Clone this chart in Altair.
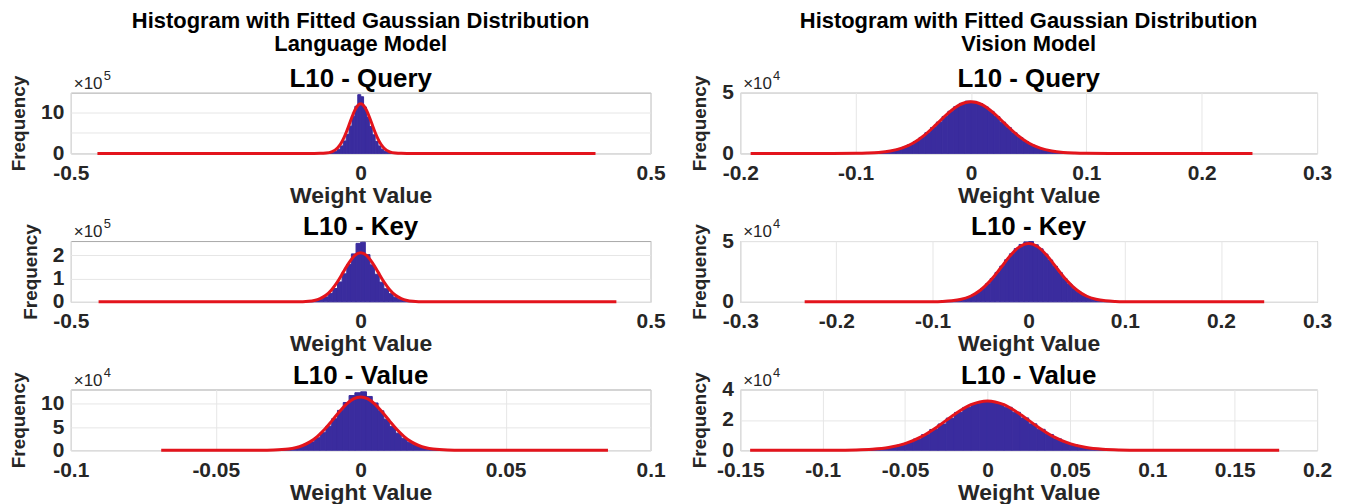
import altair as alt
import pandas as pd

# ---------------- data ----------------
# Language model, L10 - Query  (frequency in units of 1e5)
lq_bin_start, lq_bin_width = -0.075, 0.005
lq_counts = [0.0, 0.01, 0.03, 0.06, 0.12, 0.25, 0.5, 1.0, 1.8, 3.0, 4.6, 6.6, 8.9, 11.4, 14.2,
             13.7, 11.2, 8.8, 6.5, 4.5, 2.9, 1.8, 1.0, 0.5, 0.25, 0.12, 0.06, 0.03, 0.01, 0.0]
lq_fit_x = [-0.454, -0.15, -0.08, -0.07, -0.06, -0.05, -0.04, -0.035, -0.03, -0.025, -0.02, -0.015,
            -0.01, -0.005, 0.0, 0.005, 0.01, 0.015, 0.02, 0.025, 0.03, 0.035, 0.04, 0.05, 0.06,
            0.07, 0.08, 0.15, 0.405]
lq_fit_y = [0, 0, 0.002, 0.013, 0.08, 0.38, 1.31, 2.2, 3.45, 5.05, 6.9, 8.79, 10.45, 11.59, 12.0,
            11.59, 10.45, 8.79, 6.9, 5.05, 3.45, 2.2, 1.31, 0.38, 0.08, 0.013, 0.002, 0, 0]

# Language model, L10 - Key  (units of 1e5)
lk_bin_start, lk_bin_width = -0.096, 0.008
lk_counts = [0.01, 0.02, 0.05, 0.11, 0.21, 0.36, 0.57, 0.85, 1.2, 1.6, 2.05, 2.5,
             2.55, 2.02, 1.58, 1.18, 0.84, 0.56, 0.35, 0.2, 0.11, 0.05, 0.02, 0.01]
lk_fit_x = [-0.452, -0.2, -0.12, -0.1, -0.09, -0.08, -0.07, -0.06, -0.05, -0.04, -0.03, -0.02,
            -0.01, 0.0, 0.01, 0.02, 0.03, 0.04, 0.05, 0.06, 0.07, 0.08, 0.09, 0.1, 0.12, 0.2, 0.441]
lk_fit_y = [0, 0, 0.001, 0.008, 0.023, 0.06, 0.14, 0.28, 0.52, 0.86, 1.27, 1.68, 1.99, 2.1,
            1.99, 1.68, 1.27, 0.86, 0.52, 0.28, 0.14, 0.06, 0.023, 0.008, 0.001, 0, 0]

# Language model, L10 - Value  (units of 1e4)
lv_bin_start, lv_bin_width = -0.03, 0.002
lv_counts = [0.07, 0.14, 0.26, 0.45, 0.75, 1.2, 1.8, 2.7, 3.8, 5.2, 6.8, 8.6, 10.3, 11.8, 12.4,
             12.6, 11.6, 10.2, 8.5, 6.7, 5.1, 3.7, 2.6, 1.75, 1.15, 0.72, 0.43, 0.25, 0.13, 0.06]
lv_fit_x = [-0.0688, -0.05, -0.04, -0.035, -0.03, -0.025, -0.0225, -0.02, -0.0175, -0.015,
            -0.0125, -0.01, -0.0075, -0.005, -0.0025, 0.0, 0.0025, 0.005, 0.0075, 0.01, 0.0125,
            0.015, 0.0175, 0.02, 0.0225, 0.025, 0.03, 0.035, 0.04, 0.05, 0.0853]
lv_fit_y = [0, 0, 0.001, 0.007, 0.05, 0.26, 0.54, 1.03, 1.81, 2.96, 4.47, 6.29, 8.19, 9.89,
            11.07, 11.5, 11.07, 9.89, 8.19, 6.29, 4.47, 2.96, 1.81, 1.03, 0.54, 0.26, 0.05,
            0.007, 0.001, 0, 0]

# Vision model, L10 - Query  (units of 1e4)
vq_bin_start, vq_bin_width = -0.09, 0.005
vq_counts = [0.03, 0.05, 0.085, 0.14, 0.22, 0.34, 0.5, 0.71, 0.98, 1.31, 1.70, 2.13, 2.58, 3.04,
             3.47, 3.84, 4.12, 4.30,
             4.28, 4.10, 3.82, 3.46, 3.03, 2.57, 2.12, 1.69, 1.30, 0.97, 0.70, 0.49, 0.33, 0.22,
             0.14, 0.085, 0.05, 0.03]
vq_fit_x = [-0.191, -0.14, -0.12, -0.1, -0.09, -0.08, -0.07, -0.06, -0.05, -0.04, -0.03, -0.02,
            -0.01, 0.0, 0.01, 0.02, 0.03, 0.04, 0.05, 0.06, 0.07, 0.08, 0.09, 0.1, 0.12, 0.14, 0.244]
vq_fit_y = [0, 0, 0.0004, 0.007, 0.024, 0.072, 0.19, 0.43, 0.86, 1.53, 2.39, 3.29, 3.99, 4.25,
            3.99, 3.29, 2.39, 1.53, 0.86, 0.43, 0.19, 0.072, 0.024, 0.007, 0.0004, 0, 0]

# Vision model, L10 - Key  (units of 1e4)
vk_bin_start, vk_bin_width = -0.09, 0.005
vk_counts = [0.03, 0.055, 0.095, 0.16, 0.25, 0.38, 0.56, 0.80, 1.10, 1.48, 1.92, 2.42, 2.94, 3.46,
             3.95, 4.38, 4.72, 4.93,
             4.96, 4.70, 4.36, 3.93, 3.44, 2.92, 2.40, 1.90, 1.46, 1.08, 0.78, 0.55, 0.37, 0.24,
             0.15, 0.09, 0.05, 0.03]
vk_fit_x = [-0.233, -0.15, -0.12, -0.1, -0.09, -0.08, -0.07, -0.06, -0.05, -0.04, -0.03, -0.02,
            -0.01, 0.0, 0.01, 0.02, 0.03, 0.04, 0.05, 0.06, 0.07, 0.08, 0.09, 0.1, 0.12, 0.15, 0.245]
vk_fit_y = [0, 0, 0.0005, 0.008, 0.027, 0.081, 0.21, 0.48, 0.97, 1.73, 2.70, 3.72, 4.50, 4.8,
            4.50, 3.72, 2.70, 1.73, 0.97, 0.48, 0.21, 0.081, 0.027, 0.008, 0.0005, 0, 0]

# Vision model, L10 - Value  (units of 1e4)
vv_bin_start, vv_bin_width = -0.09, 0.005
vv_counts = [0.008, 0.016, 0.03, 0.05, 0.085, 0.14, 0.22, 0.34, 0.51, 0.74, 1.03, 1.37, 1.73,
             2.12, 2.49, 2.82, 3.06, 3.19,
             3.20, 3.07, 2.83, 2.50, 2.13, 1.74, 1.38, 1.04, 0.75, 0.52, 0.35, 0.22, 0.14, 0.08,
             0.045, 0.025, 0.013, 0.006]
vv_fit_x = [-0.144, -0.12, -0.1, -0.09, -0.08, -0.07, -0.06, -0.05, -0.04, -0.03, -0.02, -0.01,
            0.0, 0.01, 0.02, 0.03, 0.04, 0.05, 0.06, 0.07, 0.08, 0.09, 0.1, 0.12, 0.177]
vv_fit_y = [0, 0, 0.001, 0.005, 0.019, 0.064, 0.18, 0.44, 0.90, 1.58, 2.36, 3.0, 3.25, 3.0, 2.36,
            1.58, 0.90, 0.44, 0.18, 0.064, 0.019, 0.005, 0.001, 0, 0]

# axis ranges / ticks
lq_xdom, lq_xticks, lq_ydom, lq_yticks = [-0.5, 0.5], [-0.5, 0, 0.5], [0, 14.7], [0, 5, 10]
lk_xdom, lk_xticks, lk_ydom, lk_yticks = [-0.5, 0.5], [-0.5, 0, 0.5], [0, 2.6], [0, 1, 2]
lv_xdom, lv_xticks, lv_ydom, lv_yticks = [-0.1, 0.1], [-0.1, -0.05, 0, 0.05, 0.1], [0, 13.1], [0, 5, 10]
vq_xdom, vq_xticks, vq_ydom, vq_yticks = [-0.2, 0.3], [-0.2, -0.1, 0, 0.1, 0.2, 0.3], [0, 5], [0, 5]
vk_xdom, vk_xticks, vk_ydom, vk_yticks = [-0.3, 0.3], [-0.3, -0.2, -0.1, 0, 0.1, 0.2, 0.3], [0, 5], [0, 5]
vv_xdom, vv_xticks, vv_ydom, vv_yticks = [-0.15, 0.2], [-0.15, -0.1, -0.05, 0, 0.05, 0.1, 0.15, 0.2], [0, 4], [0, 2, 4]

main_title = "Histogram with Fitted Gaussian Distribution"
col_titles = ["Language Model", "Vision Model"]
panel_titles = ["L10 - Query", "L10 - Key", "L10 - Value"]

HIST_COLOR = "#3a2c9e"
FIT_COLOR = "#e3141c"
FONT = "Liberation Sans"
TXT = "#262626"
PANEL_H = 61


def text_layer(s, x, y, size, weight="bold", color="black", align="center"):
    return alt.Chart(pd.DataFrame({"t": [s]})).mark_text(
        font=FONT, fontSize=size, fontWeight=weight, color=color, align=align,
        baseline="alphabetic",
    ).encode(text="t:N", x=alt.value(x), y=alt.value(y))


def panel(counts, bstart, bwidth, fx, fy, xdom, xticks, ydom, yticks, expo, title, width,
          head=None):
    lo = [bstart + i * bwidth for i in range(len(counts))]
    hist_df = pd.DataFrame({"lo": lo, "hi": [v + bwidth for v in lo], "count": counts})
    fit_df = pd.DataFrame({"x": fx, "y": fy})
    xs = alt.Scale(domain=xdom, nice=False, zero=False)
    ys = alt.Scale(domain=ydom, nice=False, zero=False)
    xax = alt.Axis(values=xticks, title="Weight Value", labelExpr="'' + datum.value")
    yax = alt.Axis(values=yticks, title="Frequency", labelExpr="'' + datum.value")
    bars = alt.Chart(hist_df).mark_bar(
        color=HIST_COLOR, stroke=HIST_COLOR, strokeWidth=1
    ).encode(
        x=alt.X("lo:Q", scale=xs, axis=xax),
        x2="hi:Q",
        y=alt.Y("count:Q", scale=ys, axis=yax),
        y2=alt.datum(0),
    )
    line = alt.Chart(fit_df).mark_line(
        color=FIT_COLOR, strokeWidth=3, interpolate="monotone"
    ).encode(
        x=alt.X("x:Q", scale=xs, axis=xax),
        y=alt.Y("y:Q", scale=ys, axis=yax),
    )
    layers = [
        bars, line,
        text_layer("\u00d710", 3, -4, 17, weight="normal", color=TXT, align="left"),
        text_layer(expo, 33, -13, 13, weight="normal", color=TXT, align="left"),
        text_layer(title, width / 2, -6, 26),
    ]
    if head is not None:
        layers.append(text_layer(head[0], width / 2, -65, 22))
        layers.append(text_layer(head[1], width / 2, -42, 22))
    return alt.layer(*layers).properties(width=width, height=PANEL_H)


LW, RW = 582, 579
panels = [
    panel(lq_counts, lq_bin_start, lq_bin_width, lq_fit_x, lq_fit_y, lq_xdom, lq_xticks,
          lq_ydom, lq_yticks, "5", panel_titles[0], LW, head=(main_title, col_titles[0])),
    panel(vq_counts, vq_bin_start, vq_bin_width, vq_fit_x, vq_fit_y, vq_xdom, vq_xticks,
          vq_ydom, vq_yticks, "4", panel_titles[0], RW, head=(main_title, col_titles[1])),
    panel(lk_counts, lk_bin_start, lk_bin_width, lk_fit_x, lk_fit_y, lk_xdom, lk_xticks,
          lk_ydom, lk_yticks, "5", panel_titles[1], LW),
    panel(vk_counts, vk_bin_start, vk_bin_width, vk_fit_x, vk_fit_y, vk_xdom, vk_xticks,
          vk_ydom, vk_yticks, "4", panel_titles[1], RW),
    panel(lv_counts, lv_bin_start, lv_bin_width, lv_fit_x, lv_fit_y, lv_xdom, lv_xticks,
          lv_ydom, lv_yticks, "4", panel_titles[2], LW),
    panel(vv_counts, vv_bin_start, vv_bin_width, vv_fit_x, vv_fit_y, vv_xdom, vv_xticks,
          vv_ydom, vv_yticks, "4", panel_titles[2], RW),
]

chart = alt.concat(
    *panels, columns=2, spacing=alt.RowColnumber(row=88, column=90), bounds="flush"
).properties(
    padding={"left": 1, "top": 0, "right": 5, "bottom": 0}
).configure_view(
    stroke="#a8a8a8", strokeWidth=1
).configure_axis(
    domain=False, ticks=False, tickSize=0,
    grid=True, gridColor="#e6e6e6", gridWidth=1,
    labelFont=FONT, labelFontSize=21, labelFontWeight="bold", labelColor=TXT,
    titleFont=FONT, titleFontSize=23, titleFontWeight="bold", titleColor=TXT,
).configure_axisX(
    labelPadding=9, titlePadding=1, labelFlush=False,
).configure_axisY(
    labelPadding=7, titlePadding=12, titleFontSize=19,
)

chart.save("out.html", embed_options={"renderer": "svg", "actions": False})
